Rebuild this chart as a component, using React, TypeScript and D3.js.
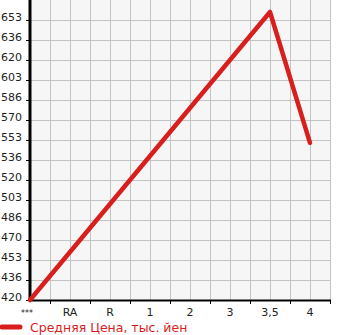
import React from "react";
import * as d3 from "d3";

const categories = ["***", "RA", "R", "1", "2", "3", "3,5", "4"];
const prices: (number | null)[] = [420, null, null, null, null, null, 660, 551];
const yTickValues = [420, 436.67, 453.33, 470, 486.67, 503.33, 520, 536.67, 553.33, 570, 586.67, 603.33, 620, 636.67, 653.33];
const legendLabel = "Средняя Цена, тыс. йен";

export default function App() {
  const W = 345, H = 335;
  const left = 30, right = 330, top = 0, bottom = 300;
  const x = d3.scalePoint<string>().domain(categories).range([left, left + 40 * (categories.length - 1)]);
  const y = d3.scaleLinear().domain([420, 670]).range([bottom, top]);
  const pts = categories
    .map((c, i) => ({ c, v: prices[i] }))
    .filter((d) => d.v !== null) as { c: string; v: number }[];
  const line = d3.line<{ c: string; v: number }>().x((d) => x(d.c)!).y((d) => y(d.v));
  const vgrid = d3.range(left + 20, right + 1, 20);
  const xTicks = d3.range(left + 20, right + 1, 40);
  const font = "DejaVu Sans, sans-serif";
  return (
    <svg width={W} height={H} style={{ position: "absolute", left: 0, top: 0 }}>
      <rect x={left} y={top} width={right - left} height={bottom - top} fill="#f6f6f6" />
      {yTickValues.map((v, i) => (
        <line key={"h" + i} x1={left} x2={right} y1={Math.round(y(v)) + 0.5} y2={Math.round(y(v)) + 0.5} stroke="#c4c4c4" strokeWidth={1} />
      ))}
      {vgrid.map((gx, i) => (
        <line key={"v" + i} x1={gx + 0.5} x2={gx + 0.5} y1={top} y2={bottom} stroke="#c4c4c4" strokeWidth={1} />
      ))}
      {yTickValues.map((v, i) => (
        <g key={"yt" + i}>
          <line x1={left - 4} x2={left} y1={Math.round(y(v)) + 0.5} y2={Math.round(y(v)) + 0.5} stroke="#000" />
          <text x={1} y={Math.round(y(v)) + 1} fontSize={11} fontFamily={font} fill="#222">
            {Math.floor(v)}
          </text>
        </g>
      ))}
      {xTicks.map((tx, i) => (
        <line key={"xt" + i} x1={tx + 0.5} x2={tx + 0.5} y1={bottom} y2={bottom + 4} stroke="#000" />
      ))}
      {categories.map((c, i) => (
        <text key={"xl" + i} x={x(c)! + (i === 0 ? -3 : 0)} y={bottom + 16} fontSize={i === 0 ? 8 : 11} fontFamily={font} fill="#222" textAnchor="middle">
          {c}
        </text>
      ))}
      <line x1={left} x2={right + 1} y1={bottom + 0.5} y2={bottom + 0.5} stroke="#000" strokeWidth={2} />
      <line x1={left} x2={left} y1={top} y2={bottom + 1} stroke="#000" strokeWidth={3} />
      <path d={line(pts)!} fill="none" stroke="#d91e1e" strokeWidth={4.5} strokeLinejoin="round" strokeLinecap="round" />
      <line x1={2} x2={20} y1={327} y2={327} stroke="#d91e1e" strokeWidth={5} strokeLinecap="round" />
      <text x={30} y={332} fontSize={12.5} fontFamily={font} fill="#d91e1e">
        {legendLabel}
      </text>
    </svg>
  );
}
